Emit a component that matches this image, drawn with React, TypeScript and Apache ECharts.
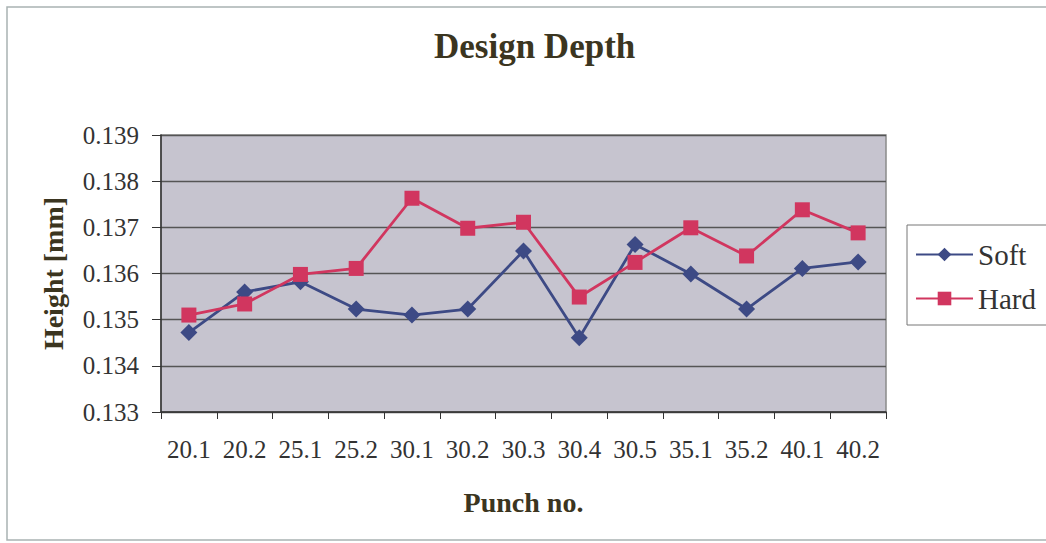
import React, { useEffect, useRef } from "react";
import * as echarts from "echarts";

const categories = ["20.1", "20.2", "25.1", "25.2", "30.1", "30.2", "30.3", "30.4", "30.5", "35.1", "35.2", "40.1", "40.2"];
const softValues = [0.13472, 0.1356, 0.13582, 0.13523, 0.13510, 0.13523, 0.13649, 0.13461, 0.13663, 0.13599, 0.13523, 0.13611, 0.13625];
const hardValues = [0.13510, 0.13534, 0.13598, 0.13611, 0.13763, 0.13698, 0.13711, 0.13549, 0.13624, 0.13699, 0.13638, 0.13738, 0.13688];
const yMin = 0.133;
const yMax = 0.139;
const yStep = 0.001;

const SERIF = "Liberation Serif";

export default function App() {
  const ref = useRef<HTMLDivElement>(null);
  useEffect(() => {
    if (!ref.current) return;
    const chart = echarts.init(ref.current, undefined, { renderer: "svg" });
    chart.setOption({
      animation: false,
      backgroundColor: "#ffffff",
      textStyle: { fontFamily: SERIF },
      title: {
        text: "Design Depth",
        left: 434,
        top: 29,
        padding: 0,
        textStyle: { fontFamily: SERIF, fontSize: 35, fontWeight: "bold", color: "#3b3520" },
      },
      graphic: [
        {
          type: "rect",
          shape: { x: 7, y: 7, width: 1045, height: 533 },
          style: { fill: "none", stroke: "#a9b3b3", lineWidth: 1.5 },
          silent: true,
        },
      ],
      legend: {
        orient: "vertical",
        left: 907,
        top: 225,
        padding: [15, 12, 12, 8],
        itemGap: 15,
        itemWidth: 57,
        itemHeight: 17,
        borderColor: "#777",
        borderWidth: 1,
        backgroundColor: "#ffffff",
        textStyle: { fontFamily: SERIF, fontSize: 29, color: "#333" },
        data: ["Soft", "Hard"],
      },
      grid: { left: 161, top: 135, width: 725, height: 277, show: true, backgroundColor: "#c6c4cf", borderColor: "#8a8a8a", borderWidth: 1.5 },
      xAxis: {
        type: "category",
        data: categories,
        boundaryGap: true,
        name: "Punch no.",
        nameLocation: "middle",
        nameGap: 76,
        nameTextStyle: { fontFamily: SERIF, fontSize: 28, fontWeight: "bold", color: "#3b3520" },
        axisLine: { lineStyle: { color: "#333", width: 1.5 } },
        axisTick: { show: true, length: 7, interval: 0, lineStyle: { color: "#333" } },
        axisLabel: { fontFamily: SERIF, fontSize: 25, color: "#333", margin: 25, interval: 0 },
      },
      yAxis: {
        type: "value",
        min: yMin,
        max: yMax,
        interval: yStep,
        name: "Height [mm]",
        nameLocation: "middle",
        nameRotate: 90,
        nameGap: 94,
        nameTextStyle: { fontFamily: SERIF, fontSize: 28, fontWeight: "bold", color: "#3b3520" },
        axisLine: { show: true, lineStyle: { color: "#333", width: 1.5 } },
        axisTick: { show: true, length: 9, lineStyle: { color: "#333" } },
        axisLabel: { fontFamily: SERIF, fontSize: 25, color: "#333", margin: 22, formatter: (v: number) => v.toFixed(3) },
        splitLine: { show: true, lineStyle: { color: "#555", width: 1.3 } },
      },
      series: [
        {
          name: "Soft",
          type: "line",
          data: softValues,
          symbol: "diamond",
          symbolSize: 17,
          color: "#3d4a85",
          lineStyle: { width: 2.8, color: "#3d4a85" },
          itemStyle: { color: "#3d4a85" },
        },
        {
          name: "Hard",
          type: "line",
          data: hardValues,
          symbol: "rect",
          symbolSize: 15,
          color: "#d1365f",
          lineStyle: { width: 2.8, color: "#d1365f" },
          itemStyle: { color: "#d1365f" },
        },
      ],
    });
    return () => chart.dispose();
  }, []);
  return <div ref={ref} style={{ position: "absolute", left: 0, top: 0, width: 1046, height: 543 }} />;
}
